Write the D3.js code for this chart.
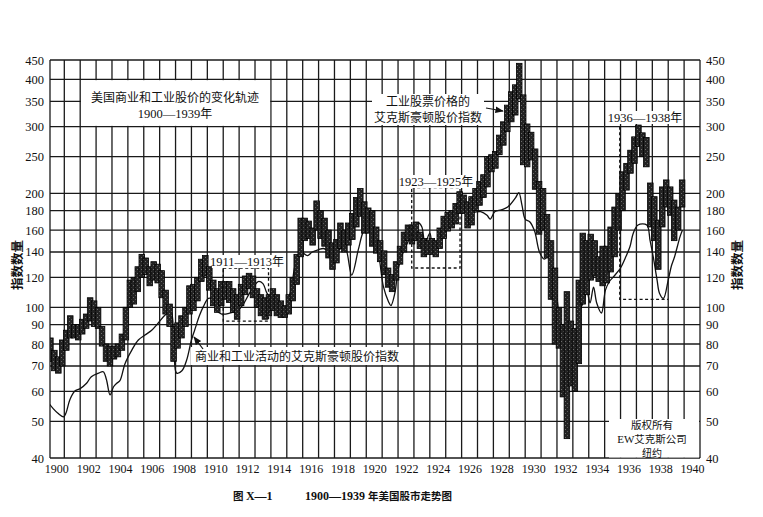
<!DOCTYPE html>
<html>
<head>
<meta charset="utf-8">
<script src="https://cdn.jsdelivr.net/npm/d3@7"></script>
<style>
  body { margin: 0; background: #fff; }
  .num { font-family: "Liberation Serif", "DejaVu Serif", serif; fill: #111; }
  .cjk { font-family: "Noto Sans CJK SC", sans-serif; fill: #111; }
</style>
</head>
<body>
<svg id="chart" width="763" height="517"></svg>
<script>
// y ticks (log scale, same on both sides)
var yTicks = [40, 50, 60, 70, 80, 90, 100, 120, 140, 160, 180, 200, 250, 300, 350, 400, 450];
var xLabels = [1900, 1902, 1904, 1906, 1908, 1910, 1912, 1914, 1916, 1918, 1920,
               1922, 1924, 1926, 1928, 1930, 1932, 1934, 1936, 1938, 1940];

// industrial stock prices, quarterly high / low, one row per year
var stockYears = [1900, 1901, 1902, 1903, 1904, 1905, 1906, 1907, 1908, 1909,
                  1910, 1911, 1912, 1913, 1914, 1915, 1916, 1917, 1918, 1919,
                  1920, 1921, 1922, 1923, 1924, 1925, 1926, 1927, 1928, 1929,
                  1930, 1931, 1932, 1933, 1934, 1935, 1936, 1937, 1938, 1939];
var stockHigh = [
  [83, 77, 74, 82], [87, 95, 90, 90], [93, 96, 106, 104], [100, 89, 80, 79], [79, 80, 85, 100],
  [118, 120, 128, 138], [135, 128, 132, 130], [125, 111, 102, 89], [91, 95, 100, 114], [115, 120, 134, 137],
  [128, 118, 112, 117], [117, 117, 112, 108], [115, 121, 123, 121], [112, 108, 106, 108], [112, 108, 104, 101],
  [108, 120, 138, 172], [172, 169, 162, 191], [180, 172, 160, 148], [151, 167, 160, 167], [177, 195, 206, 190],
  [183, 180, 163, 150], [141, 127, 122, 132], [145, 158, 165, 165], [168, 158, 152, 150], [152, 150, 162, 174],
  [178, 180, 188, 202], [198, 190, 196, 206], [215, 224, 250, 253], [258, 285, 309, 342], [371, 387, 441, 364],
  [305, 290, 262, 215], [206, 176, 150, 127], [100, 90, 110, 92], [88, 118, 157, 150], [156, 150, 136, 145],
  [145, 163, 184, 200], [228, 240, 260, 282], [303, 289, 281, 213], [196, 170, 208, 217], [208, 192, 184, 217]
];
var stockLow = [
  [72, 68, 67, 70], [77, 83, 83, 82], [85, 88, 92, 89], [88, 79, 72, 70], [73, 74, 77, 82],
  [100, 102, 110, 120], [122, 114, 118, 116], [106, 96, 89, 72], [78, 83, 89, 96], [98, 104, 117, 121],
  [111, 101, 97, 101], [105, 103, 97, 93], [101, 108, 112, 106], [100, 95, 93, 95], [98, 95, 94, 94],
  [96, 104, 115, 136], [150, 152, 146, 160], [152, 145, 135, 126], [131, 143, 140, 146], [151, 163, 174, 157],
  [157, 145, 139, 132], [122, 113, 110, 118], [130, 140, 150, 147], [150, 143, 136, 138], [138, 136, 143, 152],
  [159, 162, 166, 177], [177, 162, 165, 180], [186, 195, 208, 228], [233, 253, 268, 291], [309, 322, 355, 238],
  [235, 245, 205, 156], [160, 135, 105, 80], [78, 58, 45, 62], [60, 71, 102, 108], [118, 121, 117, 114],
  [116, 124, 136, 160], [180, 204, 226, 240], [266, 250, 235, 163], [150, 126, 163, 184], [175, 150, 160, 184]
];

// business activity index (thin line)
var busYears = [1900.0, 1900.3, 1900.6, 1900.95, 1901.1, 1901.35, 1901.65, 1902.0, 1902.4, 1902.7,
  1903.15, 1903.45, 1903.65, 1903.88, 1904.1, 1904.3, 1904.5, 1904.82, 1905.24, 1905.66,
  1906.08, 1906.5, 1906.9, 1907.34, 1907.7, 1907.9, 1908.07, 1908.4, 1908.7, 1909.0,
  1909.2, 1909.5, 1909.75, 1910.07, 1910.4, 1910.6, 1910.9, 1911.4, 1911.95, 1912.3,
  1912.6, 1912.9, 1913.2, 1913.5, 1913.75, 1914.1, 1914.5, 1914.9, 1915.1, 1915.3,
  1915.5, 1915.7, 1915.9, 1916.3, 1916.6, 1917.0, 1917.3, 1917.6, 1917.9, 1918.3,
  1918.66, 1919.08, 1919.5, 1919.8, 1920.1, 1920.4, 1920.76, 1921.08, 1921.4, 1921.55,
  1921.8, 1922.02, 1922.3, 1922.65, 1922.96, 1923.3, 1923.5, 1923.7, 1924.0, 1924.2,
  1924.6, 1925.0, 1925.6, 1925.9, 1926.2, 1926.7, 1927.2, 1927.6, 1927.8, 1928.1,
  1928.5, 1928.9, 1929.4, 1929.6, 1929.8, 1930.0, 1930.3, 1930.6, 1930.9, 1931.2,
  1931.5, 1931.8, 1932.1, 1932.4, 1932.7, 1933.0, 1933.3, 1933.5, 1933.66, 1933.87,
  1934.08, 1934.3, 1934.5, 1934.8, 1935.05, 1935.3, 1935.6, 1936.0, 1936.3, 1936.6,
  1936.8, 1937.1, 1937.65, 1937.86, 1938.07, 1938.3, 1938.45, 1938.7, 1939.0, 1939.2,
  1939.4, 1939.75, 1939.9];
var busValues = [56, 54, 52.5, 51.4, 52.5, 57, 60, 61, 63, 65.6,
  67, 67.6, 64.5, 58.7, 61.7, 63, 64, 71, 77, 82,
  84.5, 87, 90.8, 95.4, 97.6, 77, 67, 68, 72.6, 82,
  87, 95, 100.4, 105.6, 104.6, 98, 96, 96.5, 98.4, 102.5,
  108, 113, 117, 115.5, 109, 104.6, 100.4, 98, 104.6, 113,
  128, 136, 140, 137, 140, 142, 143, 141, 138, 142,
  144, 121.7, 142, 158, 165, 155, 139, 113.4, 103.5, 101,
  109, 127, 139, 150, 162, 167, 163, 147.6, 157, 144,
  150, 163, 173.5, 180, 179, 178, 179, 175, 171, 179,
  181, 184, 195, 201, 186, 171, 168, 158.5, 140, 134,
  137, 125, 98, 85, 80, 82, 90, 100, 102.7, 111,
  102.7, 113, 102.7, 96.6, 111, 117, 121, 127, 135, 145,
  157, 165, 165, 150, 135, 118, 109, 105.6, 118, 128.6,
  136, 154, 160];

var svg = d3.select('#chart');
var pL = 50, pR = 700, pT = 60, pB = 458;

var x = d3.scaleLinear().domain([1900.1, 1941]).range([pL, pR]);
var y = d3.scaleLog().domain([40, 450]).range([pB, pT]);

var defs = svg.append('defs');
defs.append('clipPath').attr('id', 'plot')
  .append('rect').attr('x', pL).attr('y', pT).attr('width', pR - pL).attr('height', pB - pT);

// stipple used for the price band
var pat = defs.append('pattern')
  .attr('id', 'stip').attr('width', 4).attr('height', 4).attr('patternUnits', 'userSpaceOnUse');
pat.append('rect').attr('width', 4).attr('height', 4).attr('fill', '#232323');
pat.append('rect').attr('x', 1).attr('y', 1).attr('width', 1).attr('height', 1).attr('fill', '#6e6e6e');
pat.append('rect').attr('x', 3).attr('y', 3).attr('width', 1).attr('height', 1).attr('fill', '#5a5a5a');

// grid
var grid = svg.append('g').attr('stroke', '#1a1a1a').attr('stroke-width', 1.3);
grid.selectAll('line.h').data(yTicks).enter().append('line')
  .attr('x1', pL).attr('x2', pR)
  .attr('y1', function (d) { return y(d); }).attr('y2', function (d) { return y(d); });
grid.selectAll('line.v').data(d3.range(1901, 1942)).enter().append('line')
  .attr('y1', pT).attr('y2', pB)
  .attr('x1', function (d) { return x(d); }).attr('x2', function (d) { return x(d); });
grid.append('line').attr('x1', pL).attr('x2', pL).attr('y1', pT).attr('y2', pB);

// white boxes that cover the grid
function whiteBox(x0, y0, w, h) {
  svg.append('rect').attr('x', x0).attr('y', y0).attr('width', w).attr('height', h).attr('fill', '#fff');
}
whiteBox(x(1902) + 0.8, y(400) + 0.8, x(1914) - x(1902) - 1.6, y(300) - y(400) - 1.6);

// axes labels
var yLeft = svg.append('g').attr('transform', 'translate(' + (pL - 3) + ',0)')
  .call(d3.axisLeft(y).tickValues(yTicks).tickSize(0).tickFormat(d3.format('d')));
var yRight = svg.append('g').attr('transform', 'translate(' + (pR + 3) + ',0)')
  .call(d3.axisRight(y).tickValues(yTicks).tickSize(0).tickFormat(d3.format('d')));
[yLeft, yRight].forEach(function (a) {
  a.select('.domain').remove();
  a.selectAll('text').attr('class', 'num').style('font-size', '12.5px').attr('fill', '#111');
});
var xAxis = svg.append('g').attr('transform', 'translate(0,' + (pB + 2) + ')')
  .call(d3.axisBottom(x).tickValues(xLabels.map(function (d) { return d + 0.5; })).tickSize(0)
    .tickFormat(function (d) { return Math.round(d - 0.5); }));
xAxis.select('.domain').remove();
xAxis.selectAll('text').attr('class', 'num').style('font-size', '12px').attr('fill', '#111').attr('dy', '0.85em');

svg.append('text').attr('class', 'cjk').attr('transform', 'translate(22,265) rotate(-90)')
  .attr('text-anchor', 'middle').style('font-size', '12.5px').style('font-weight', 'bold').text('指数数量');
svg.append('text').attr('class', 'cjk').attr('transform', 'translate(742,265) rotate(-90)')
  .attr('text-anchor', 'middle').style('font-size', '12.5px').style('font-weight', 'bold').text('指数数量');

var plot = svg.append('g').attr('clip-path', 'url(#plot)');

// business activity line
var busLine = d3.line()
  .x(function (d) { return x(d[0]); })
  .y(function (d) { return y(d[1]); })
  .curve(d3.curveCatmullRom.alpha(0.5));
plot.append('path')
  .datum(busYears.map(function (t, i) { return [t, busValues[i]]; }))
  .attr('d', busLine).attr('fill', 'none').attr('stroke', '#111').attr('stroke-width', 1.3);

// price band
var bars = [];
stockYears.forEach(function (yr, i) {
  stockHigh[i].forEach(function (h, q) {
    bars.push({ t: yr + q / 4, hi: h, lo: stockLow[i][q] });
  });
});
plot.selectAll('rect.bar').data(bars).enter().append('rect')
  .attr('x', function (d) { return x(d.t) - 0.8; })
  .attr('width', function (d) { return x(d.t + 0.25) - x(d.t) + 1.6; })
  .attr('y', function (d) { return y(d.hi); })
  .attr('height', function (d) { return y(d.lo) - y(d.hi); })
  .attr('fill', 'url(#stip)').attr('stroke', '#000').attr('stroke-width', 0.8);

// dashed period boxes
var dash = svg.append('g').attr('fill', 'none').attr('stroke', '#111').attr('stroke-width', 1.3)
  .attr('stroke-dasharray', '3,2.5');
dash.append('rect').attr('x', x(1911)).attr('y', y(127))
  .attr('width', x(1913.85) - x(1911)).attr('height', y(92) - y(127));
dash.append('rect').attr('x', x(1922.86)).attr('y', y(207))
  .attr('width', x(1925.9) - x(1922.86)).attr('height', y(127) - y(207));
dash.append('path').attr('d', 'M' + x(1935.95) + ',' + y(300) + 'V' + y(105) + 'H' + x(1939));

function label(cx, by, txt, w) {
  svg.append('rect').attr('x', cx - w / 2).attr('y', by - 11).attr('width', w).attr('height', 13).attr('fill', '#fff');
  var t = svg.append('text').attr('x', cx).attr('y', by).attr('text-anchor', 'middle').style('font-size', '12.5px');
  t.append('tspan').attr('class', 'num').text(txt);
  t.append('tspan').attr('class', 'cjk').style('font-size', '12px').text('年');
}
label(247, 266, '1911—1913', 70);
label(436, 186, '1923—1925', 72);
label(645, 122, '1936—1938', 72);

// title box text
svg.append('text').attr('class', 'cjk').attr('x', 175).attr('y', 102).attr('text-anchor', 'middle')
  .style('font-size', '12px').text('美国商业和工业股价的变化轨迹');
var t2 = svg.append('text').attr('x', 175).attr('y', 118).attr('text-anchor', 'middle').style('font-size', '12.5px');
t2.append('tspan').attr('class', 'num').text('1900—1939');
t2.append('tspan').attr('class', 'cjk').style('font-size', '12px').text('年');

// stock index note
whiteBox(372, 94, 112, 31);
svg.append('text').attr('class', 'cjk').attr('x', 428).attr('y', 106).attr('text-anchor', 'middle')
  .style('font-size', '12px').text('工业股票价格的');
svg.append('text').attr('class', 'cjk').attr('x', 428).attr('y', 122).attr('text-anchor', 'middle')
  .style('font-size', '12px').text('艾克斯豪顿股价指数');

// business index note
whiteBox(191, 347, 210, 18);
svg.append('text').attr('class', 'cjk').attr('x', 195).attr('y', 361)
  .style('font-size', '12px').text('商业和工业活动的艾克斯豪顿股价指数');

// arrows
var mk = defs.append('marker').attr('id', 'arr').attr('viewBox', '0 0 10 10')
  .attr('refX', 9).attr('refY', 5).attr('markerWidth', 7).attr('markerHeight', 7).attr('orient', 'auto');
mk.append('path').attr('d', 'M0,1L10,5L0,9Z').attr('fill', '#111');
svg.append('line').attr('x1', 486).attr('y1', 108).attr('x2', 503).attr('y2', 111)
  .attr('stroke', '#111').attr('stroke-width', 1.2).attr('marker-end', 'url(#arr)');
svg.append('line').attr('x1', 203).attr('y1', 349).attr('x2', 194).attr('y2', 337)
  .attr('stroke', '#111').attr('stroke-width', 1.2).attr('marker-end', 'url(#arr)');

// copyright box
whiteBox(609, 419, 90, 38.5);
svg.append('text').attr('class', 'cjk').attr('x', 652).attr('y', 428.5).attr('text-anchor', 'middle')
  .style('font-size', '10.5px').text('版权所有');
var c2 = svg.append('text').attr('x', 652).attr('y', 442.5).attr('text-anchor', 'middle').style('font-size', '11px');
c2.append('tspan').attr('class', 'num').text('EW');
c2.append('tspan').attr('class', 'cjk').style('font-size', '10.5px').text('艾克斯公司');
svg.append('text').attr('class', 'cjk').attr('x', 652).attr('y', 456.5).attr('text-anchor', 'middle')
  .style('font-size', '10px').text('纽约');

// caption
var cap = svg.append('text').attr('x', 233).attr('y', 500).style('font-weight', 'bold');
cap.append('tspan').attr('class', 'cjk').style('font-size', '10.5px').text('图 ');
cap.append('tspan').attr('class', 'num').style('font-size', '12px').text('X—1');
cap.append('tspan').attr('class', 'num').attr('x', 305).style('font-size', '12px').text('1900—1939 ');
cap.append('tspan').attr('class', 'cjk').style('font-size', '10.5px').text('年美国股市走势图');
</script>
</body>
</html>
